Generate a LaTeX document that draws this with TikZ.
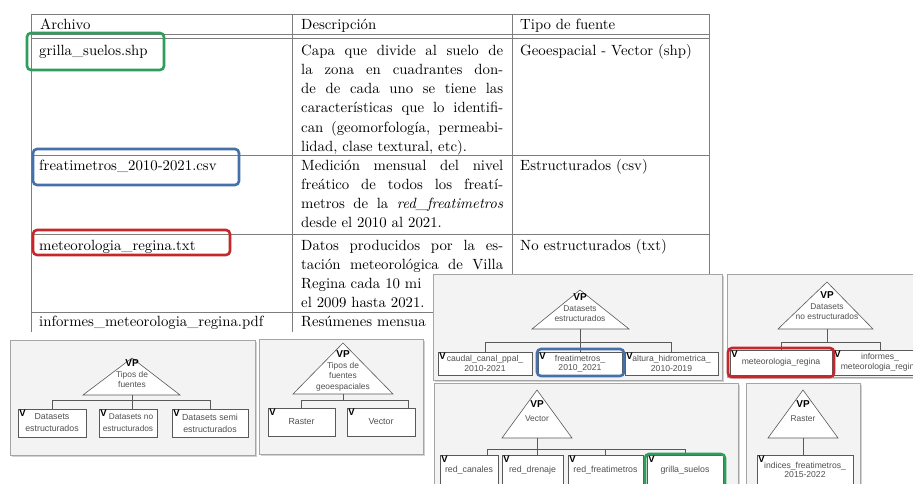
\documentclass[tikz,border=0pt]{standalone}
\usepackage{fontspec}
\setmainfont{lmroman10-regular.otf}[ItalicFont=lmroman10-italic.otf,BoldFont=lmroman10-bold.otf]
\setsansfont{Liberation Sans}
\usetikzlibrary{shadows}
\definecolor{tabgray}{RGB}{125,125,125}
\definecolor{panelfill}{RGB}{243,243,243}
\definecolor{panelline}{RGB}{165,165,165}
\definecolor{txtgray}{RGB}{80,80,80}
\definecolor{hlgreen}{RGB}{46,158,90}
\definecolor{hlblue}{RGB}{70,112,170}
\definecolor{hlred}{RGB}{196,40,45}

\begin{document}
\begin{tikzpicture}[x=1pt, y=-1pt,
    rule/.style = {draw=tabgray, line width=0.9pt},
    cell/.style = {anchor=base west, inner sep=0pt, font=\fontsize{14.8}{19.3}\selectfont},
    desc/.style = {cell, text width=202pt, align=justify, execute at begin node={\tolerance=9999\relax\hyphenpenalty=10000\relax}},
    panel/.style = {draw=panelline, fill=panelfill, line width=0.8pt, drop shadow={shadow xshift=1.5pt, shadow yshift=-1.5pt, opacity=0.35}},
    vptri/.style = {draw=black!65, fill=white, line width=0.6pt},
    tree/.style = {draw=black!65, line width=0.6pt},
    vplab/.style = {align=center, inner sep=0pt, text=txtgray, font=\sffamily\fontsize{8.4}{10.5}\selectfont},
    vlab/.style = {anchor=north west, inner sep=1.5pt, text=black, font=\sffamily\bfseries\fontsize{9.5}{10}\selectfont},
    box/.style = {draw=black!65, fill=white, line width=0.6pt, inner sep=0pt, align=center, text=txtgray, font=\sffamily\fontsize{8.8}{12}\selectfont, label={[vlab]north west:V}},
    tightbox/.style = {box, font=\sffamily\fontsize{8.6}{9.5}\selectfont},
    hilite/.style = {line width=2.6pt, rounded corners=4pt}]

    \path[use as bounding box, fill=white] (0,0) rectangle (913,483);

    % table
    \draw[rule] (31,14) -- (709,14);
    \draw[rule] (31,34) -- (709,34);
    \draw[rule] (31,38) -- (709,38);
    \draw[rule] (31,155) -- (709,155);
    \draw[rule] (31,234) -- (709,234);
    \draw[rule] (31,312) -- (709,312);
    \foreach \x in {31,292,512,709}
        \draw[rule] (\x,14) -- (\x,332);

    \node[cell] (h1) at (40,29) {Archivo};
    \node[cell] (h2) at (301,29) {Descripción};
    \node[cell] (h3) at (520,29) {Tipo de fuente};

    \node[cell] (f1) at (39,55) {grilla\_suelos.shp};
    \node[desc] (d1) at (301,55) {Capa que divide al suelo de\linebreak la zona en cuadrantes don-\linebreak de de cada uno se tiene las\linebreak características que lo identifi-\linebreak can (geomorfología, permeabi-\linebreak lidad, clase textural, etc).};
    \node[cell] (t1) at (520,55) {Geoespacial - Vector (shp)};

    \node[cell] (f2) at (39,170) {freatimetros\_2010-2021.csv};
    \node[desc] (d2) at (301,170) {Medición mensual del nivel\linebreak freático de todos los freatí-\linebreak metros de la \textit{red\_freatimetros}\linebreak desde el 2010 al 2021.};
    \node[cell] (t2) at (520,170) {Estructurados (csv)};

    \node[cell] (f3) at (39,250) {meteorologia\_regina.txt};
    \node[desc] (d3) at (301,250) {Datos producidos por la es-\linebreak tación meteorológica de Villa\linebreak Regina cada 10 mi\newline el 2009 hasta 2021.};
    \node[cell] (t3) at (520,250) {No estructurados (txt)};

    \node[cell] (f4) at (39,326) {informes\_meteorologia\_regina.pdf};
    \node[cell] (d4) at (301,326) {Resúmenes mensua};

    % VP tipos de fuentes
    \draw[panel] (10,340) rectangle (255,455);
    \draw[vptri] (132,358) -- (180,395) -- (83,395) -- cycle;
    \coordinate (s1) at (132,395);
    \node[vplab] (l1) at (132,374) {{\color{black}\bfseries\fontsize{10}{10.5}\selectfont VP}\\Tipos de\\fuentes};
    \node[box, minimum width=68pt, minimum height=28pt] (b11) at (52,423) {Datasets\\estructurados};
    \node[box, minimum width=58pt, minimum height=28pt, align=right, font=\sffamily\fontsize{8.3}{12}\selectfont] (b12) at (128,423) {Datasets no\\estructurados};
    \node[box, minimum width=76pt, minimum height=28pt] (b13) at (210,423) {Datasets semi\\estructurados};
    \draw[tree] (s1) -- ++(0,5) -| (b11.north);
    \draw[tree] (s1) -- ++(0,5) -| (b13.north);
    \draw[tree] (s1) -- (s1 |- b12.north);

    % VP tipos de fuentes geoespaciales
    \draw[panel] (259,339) rectangle (423,454);
    \draw[vptri] (343,343) -- (393,394) -- (293,394) -- cycle;
    \coordinate (s2) at (343,394);
    \node[vplab] (l2) at (343,371) {{\color{black}\bfseries\fontsize{10}{10.5}\selectfont VP}\\Tipos de\\fuentes\\geoespaciales};
    \node[box, minimum width=67pt, minimum height=28pt] (b21) at (301.5,422) {Raster};
    \node[box, minimum width=68pt, minimum height=28pt] (b22) at (381,422) {Vector};
    \draw[tree] (s2) -- ++(0,6) -| (b21.north);
    \draw[tree] (s2) -- ++(0,6) -| ([xshift=27pt]b22.north);

    % VP datasets estructurados
    \draw[panel] (433,274) rectangle (722,380);
    \draw[vptri] (580,290) -- (629,329) -- (532,329) -- cycle;
    \coordinate (s3) at (580,329);
    \node[vplab] (l3) at (580,308) {{\color{black}\bfseries\fontsize{10}{10.5}\selectfont VP}\\Datasets\\estructurados};
    \node[tightbox, minimum width=94pt, minimum height=23pt] (b31) at (485,363.5) {caudal\_canal\_ppal\_\\2010-2021};
    \node[tightbox, minimum width=84pt, minimum height=23pt] (b32) at (580,363.5) {freatimetros\_\\2010\_2021};
    \node[tightbox, minimum width=93pt, minimum height=23pt] (b33) at (671.5,363.5) {altura\_hidrometrica\_\\2010-2019};
    \draw[tree] (s3) -- ++(0,13) -| (b31.north);
    \draw[tree] (s3) -- ++(0,13) -| (b33.north);
    \draw[tree] (s3) -- (b32.north);

    % VP datasets no estructurados
    \draw[panel] (727,274) rectangle (930,377);
    \draw[vptri] (827,282) -- (873,329) -- (778,329) -- cycle;
    \coordinate (s4) at (827,329);
    \node[vplab] (l4) at (827,306) {{\color{black}\bfseries\fontsize{10}{10.5}\selectfont VP}\\Datasets\\no estructurados};
    \node[tightbox, minimum width=102pt, minimum height=25pt] (b41) at (781,362.5) {meteorologia\_regina};
    \node[tightbox, minimum width=94pt, minimum height=25pt] (b42) at (880,362.5) {informes\_\\meteorologia\_regina};
    \draw[tree] (s4) -- ++(0,13) -| (b41.north);
    \draw[tree] (s4) -- ++(0,13) -| (b42.north);

    % VP vector
    \draw[panel] (434,383) rectangle (738,500);
    \draw[vptri] (537,390) -- (572,438) -- (502,438) -- cycle;
    \coordinate (s5) at (537,438);
    \node[vplab] (l5) at (537,411) {{\color{black}\bfseries\fontsize{10}{10.5}\selectfont VP}\\[3pt]Vector};
    \node[box, minimum width=58pt, minimum height=30pt] (b51) at (469,470) {red\_canales};
    \node[box, minimum width=61pt, minimum height=30pt] (b52) at (532.5,470) {red\_drenaje};
    \node[box, minimum width=75pt, minimum height=30pt] (b53) at (605.5,470) {red\_freatimetros};
    \node[box, minimum width=76pt, minimum height=30pt] (b54) at (685,470) {grilla\_suelos};
    \draw[tree] (s5) -- ++(0,11) -| ([xshift=18pt]b51.north);
    \draw[tree] (s5) -- (s5 |- b52.north);
    \draw[tree] (s5) -- ++(0,11) -| (b53.north);
    \draw[tree] (s5) -- ++(0,11) -| (b54.north);

    % VP raster
    \draw[panel] (746,383) rectangle (860,500);
    \draw[vptri] (803,390) -- (838,438) -- (768,438) -- cycle;
    \coordinate (s6) at (803,438);
    \node[vplab] (l6) at (803,411) {{\color{black}\bfseries\fontsize{10}{10.5}\selectfont VP}\\[3pt]Raster};
    \node[tightbox, minimum width=96pt, minimum height=30pt] (b61) at (805,470) {indices\_freatimetros\_\\2015-2022};
    \draw[tree] (s6) -- (s6 |- b61.north);

    % highlights
    \draw[hilite, hlgreen] (27,33) rectangle (164,70);
    \draw[hilite, hlblue] (33,149) rectangle (239,185);
    \draw[hilite, hlred] (33,230) rectangle (230,255);
    \draw[hilite, hlblue] (537,349) rectangle (624,376);
    \draw[hilite, hlred] (728,348) rectangle (834,377);
    \draw[hilite, hlgreen] (645,454) rectangle (725,495);

\end{tikzpicture}
\end{document}
